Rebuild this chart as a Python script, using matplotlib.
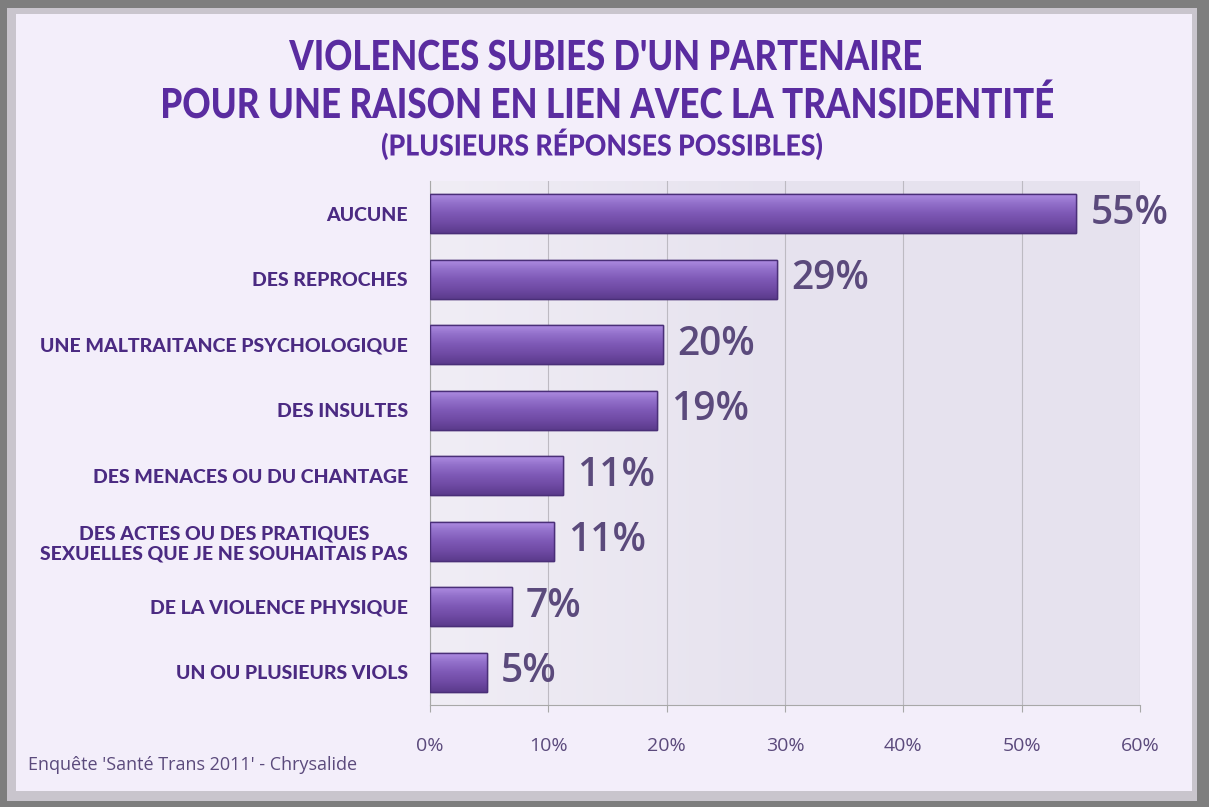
import numpy as np
import matplotlib
matplotlib.use('Agg')
import matplotlib.pyplot as plt
from matplotlib.patches import Rectangle, PathPatch
from matplotlib.ticker import PercentFormatter
from matplotlib.textpath import TextPath
from matplotlib.font_manager import FontProperties
from matplotlib.transforms import Affine2D, IdentityTransform

categories = ['AUCUNE', 'DES REPROCHES', 'UNE MALTRAITANCE PSYCHOLOGIQUE', 'DES INSULTES',
              'DES MENACES OU DU CHANTAGE',
              'DES ACTES OU DES PRATIQUES\nSEXUELLES QUE JE NE SOUHAITAIS PAS',
              'DE LA VIOLENCE PHYSIQUE', 'UN OU PLUSIEURS VIOLS']
values = [54.6, 29.3, 19.7, 19.2, 11.2, 10.5, 6.9, 4.8]
value_labels = ['55%', '29%', '20%', '19%', '11%', '11%', '7%', '5%']
xticks = [0, 10, 20, 30, 40, 50, 60]
title_lines = ["VIOLENCES SUBIES D'UN PARTENAIRE",
               "POUR UNE RAISON EN LIEN AVEC LA TRANSIDENTITÉ",
               "(PLUSIEURS RÉPONSES POSSIBLES)"]

title_color = '#5a2ca0'
label_color = '#4b2a82'
num_color = '#5b4a7c'

W, H = 1209, 807
fig = plt.figure(figsize=(W / 100, H / 100), dpi=100)
fig.patch.set_facecolor('#7e7e7e')
# bevelled frame
fig.add_artist(Rectangle((0.006, 0.008), 0.984, 0.982, transform=fig.transFigure,
                         facecolor='#c9c5cd', edgecolor='none', zorder=0))
fig.add_artist(Rectangle((0.013, 0.02), 0.973, 0.963, transform=fig.transFigure,
                         facecolor='#f3eefa', edgecolor='none', zorder=0))

ax = fig.add_axes([430 / W, 1 - 705 / H, 710 / W, 524 / H])
ax.set_facecolor('#e8e4ef')

y = np.arange(len(categories))
bars = ax.barh(y, values, height=0.6, color='#7d58b4', edgecolor='#4a2f78', linewidth=1.0, zorder=3)

# vertical gradient on each bar (light top, darker bottom)
grad = np.linspace(0, 1, 100).reshape(-1, 1)
cmap = matplotlib.colors.LinearSegmentedColormap.from_list(
    'bar', ['#b08ee4', '#9270ca', '#7e59b6', '#6f4aa4', '#5b3b8c'])
for b in bars:
    x0, y0, w, h = b.get_x(), b.get_y(), b.get_width(), b.get_height()
    im = ax.imshow(grad, extent=(x0, x0 + w, y0 + h, y0), cmap=cmap, aspect='auto', zorder=4)
    im.set_clip_path(b)
    ax.add_patch(Rectangle((x0, y0), w, h, facecolor='none', edgecolor='#4a2f78', linewidth=1.0, zorder=5))

# plot area light gradient from left
bg = np.linspace(0, 1, 200).reshape(1, -1)
bgmap = matplotlib.colors.LinearSegmentedColormap.from_list('bg', ['#f0edf5', '#e6e2ee', '#e6e2ee'])
ax.imshow(bg, extent=(0, 60, len(categories) - 0.5, -0.5), cmap=bgmap, aspect='auto', zorder=0)

for yi, v, lab in zip(y, values, value_labels):
    ax.text(v + 1.2, yi, lab, va='center', ha='left', fontsize=28, color=num_color,
            family='Open Sans', fontweight='semibold', zorder=6)

ax.set_xlim(0, 60)
ax.set_ylim(len(categories) - 0.5, -0.5)
ax.set_xticks(xticks)
ax.xaxis.set_major_formatter(PercentFormatter(decimals=0))
ax.set_yticks(y)
ax.set_yticklabels(categories, multialignment='center')
ax.tick_params(axis='y', length=0, pad=16, labelsize=14, labelcolor=label_color)
ax.tick_params(axis='x', length=5, color='#a8a8a8', pad=18, labelsize=14, labelcolor=num_color)
for t in ax.get_yticklabels():
    t.set_family('Lato')
    t.set_fontweight('black')
for t in ax.get_xticklabels():
    t.set_family('Open Sans')
ax.grid(axis='x', color='#bdbac2', linewidth=0.8, zorder=1)
ax.set_axisbelow(True)
for s in ['top', 'right']:
    ax.spines[s].set_visible(False)
ax.spines['left'].set_color('#a8a8a8')
ax.spines['bottom'].set_color('#a8a8a8')


def squeezed_title(s, cx, cy, cap_px, width_px):
    # condensed bold title drawn as a path, scaled to the reference size
    fp = FontProperties(family='Lato', weight='black')
    p = TextPath((0, 0), s, size=100, prop=fp)
    cap = TextPath((0, 0), 'H', size=100, prop=fp).get_extents().height
    ext = p.get_extents()
    sy = cap_px / cap
    sx = width_px / ext.width
    tr = Affine2D().translate(-ext.x0 - ext.width / 2, -cap / 2).scale(sx, sy).translate(cx, H - cy)
    fig.add_artist(PathPatch(tr.transform_path(p), facecolor=title_color, edgecolor='none',
                             transform=IdentityTransform(), zorder=5))


squeezed_title(title_lines[0], 605, 55, 30, 632)
squeezed_title(title_lines[1], 608, 103, 30, 890)
squeezed_title(title_lines[2], 602, 145, 21, 440)

fig.text(0.023, 1 - 765 / H, "Enquête 'Santé Trans 2011' - Chrysalide", ha='left', va='center', fontsize=13,
         color=num_color, family='Open Sans')

fig.savefig('out.png', dpi=100, facecolor=fig.get_facecolor())
